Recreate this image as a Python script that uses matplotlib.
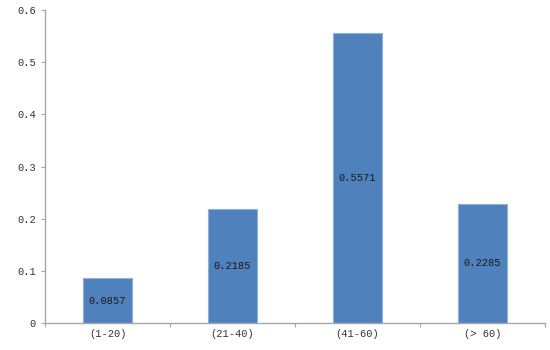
import matplotlib
matplotlib.use("Agg")
import matplotlib.pyplot as plt
import numpy as np
from matplotlib.ticker import FixedLocator, NullFormatter

plt.rcParams["font.family"] = ["Liberation Mono", "Noto Sans CJK SC", "DejaVu Sans"]

# 数据
categories = ["(1-20)", "(21-40)", "(41-60)", "(> 60)"]
values = [0.0857, 0.2185, 0.5571, 0.2285]
y_ticks = [0, 0.1, 0.2, 0.3, 0.4, 0.5, 0.6]
y_tick_labels = ["0", "0.1", "0.2", "0.3", "0.4", "0.5", "0.6"]

fig = plt.figure(figsize=(5.5, 3.5), dpi=100)
ax = fig.add_axes([0.082, 0.077, 0.909, 0.894])

x = np.arange(len(categories))
bars = ax.bar(x, values, width=0.39, color="#4F81BD", edgecolor="#8FB0DA", linewidth=0.8)

for xi, v in zip(x, values):
    ax.text(xi, v / 2, f"{v:.4f}", ha="center", va="center",
            fontsize=7.5, color="#1a1a1a")

ax.set_xlim(-0.5, len(categories) - 0.5)
ax.set_ylim(0, 0.6)

# 坐标轴样式
for side in ["top", "right"]:
    ax.spines[side].set_visible(False)
for side in ["left", "bottom"]:
    ax.spines[side].set_color("#a6a6a6")
    ax.spines[side].set_linewidth(1.0)

ax.set_yticks(y_ticks)
ax.set_yticklabels(y_tick_labels, fontsize=7.5)
ax.tick_params(axis="y", colors="#a6a6a6", labelcolor="#333333", length=3, direction="out")

# 类别分隔刻度
ax.xaxis.set_major_locator(FixedLocator(np.arange(len(categories) + 1) - 0.5))
ax.xaxis.set_major_formatter(NullFormatter())
ax.xaxis.set_minor_locator(FixedLocator(x))
ax.set_xticklabels(categories, minor=True, fontsize=7.5)
ax.tick_params(axis="x", which="major", colors="#a6a6a6", length=3, direction="out")
ax.tick_params(axis="x", which="minor", length=0, labelcolor="#333333", pad=4)

fig.savefig("out.png", dpi=100)
